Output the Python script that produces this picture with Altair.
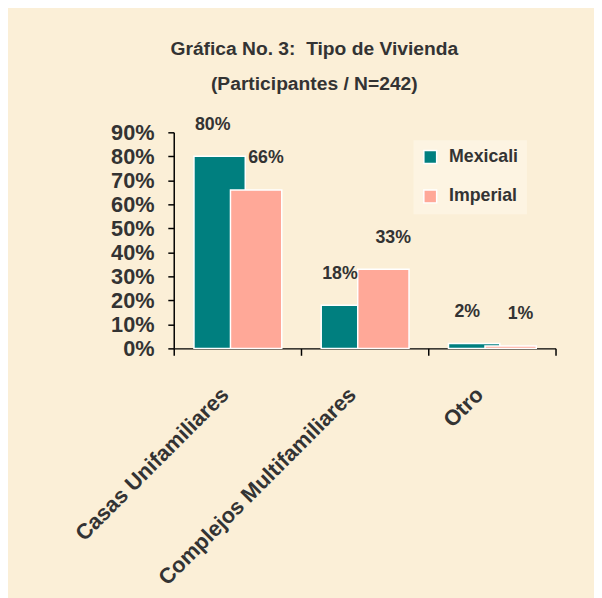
import altair as alt
import pandas as pd

categories = ["Casas Unifamiliares", "Complejos Multifamiliares", "Otro"]
series = ["Mexicali", "Imperial"]
mexicali = [0.80, 0.18, 0.02]
imperial = [0.66, 0.33, 0.01]
y_ticks = [0, 0.1, 0.2, 0.3, 0.4, 0.5, 0.6, 0.7, 0.8, 0.9]

rows = []
for c, m, i in zip(categories, mexicali, imperial):
    rows.append({"Category": c, "Series": "Mexicali", "Value": m})
    rows.append({"Category": c, "Series": "Imperial", "Value": i})
df = pd.DataFrame(rows)

TEAL = "#007F7F"
PINK = "#FFA898"
TXT = "#333333"
FONT = "Liberation Sans"
BG = "#FBEFD7"

base = alt.Chart(df).encode(
    x=alt.X(
        "Category:N",
        sort=categories,
        scale=alt.Scale(paddingInner=0, paddingOuter=0),
        axis=alt.Axis(
            title=None,
            labelAngle=-45,
            labelFont=FONT,
            labelFontWeight="bold",
            labelFontSize=22,
            labelColor=TXT,
            labelPadding=29,
            labelOffset=-20,
            labelLimit=0,
            tickBand="extent",
            tickSize=7,
            tickColor="black",
            domainColor="black",
            domainWidth=1.5,
            tickWidth=1.5,
            grid=False,
        ),
    ),
    y=alt.Y(
        "Value:Q",
        scale=alt.Scale(domain=[0, 0.9], nice=False),
        axis=alt.Axis(
            title=None,
            values=y_ticks,
            format=".0%",
            labelFont=FONT,
            labelFontWeight="bold",
            labelFontSize=22,
            labelColor=TXT,
            labelPadding=14,
            tickSize=6,
            tickColor="black",
            domainColor="black",
            domainWidth=1.5,
            tickWidth=1.5,
            grid=False,
        ),
    ),
)

color = alt.Color(
    "Series:N",
    scale=alt.Scale(domain=series, range=[TEAL, PINK]),
    sort=series,
    legend=alt.Legend(
        title=None,
        orient="none",
        legendX=243,
        legendY=8,
        symbolType="square",
        symbolSize=169,
        symbolStrokeColor="white",
        symbolStrokeWidth=1.5,
        symbolOpacity=1,
        labelFont=FONT,
        labelFontWeight="bold",
        labelFontSize=18,
        labelColor=TXT,
        rowPadding=20,
        labelOffset=10,
        padding=8,
        fillColor="#FDF4E2",
    ),
)

bars_m = base.transform_filter(alt.datum.Series == "Mexicali").mark_bar(
    width=52, xOffset=-18, stroke="white", strokeWidth=1.5
).encode(color=color)
bars_i = base.transform_filter(alt.datum.Series == "Imperial").mark_bar(
    width=52, xOffset=19, stroke="white", strokeWidth=1.5
).encode(color=color)

lab_kw = dict(font=FONT, fontWeight="bold", fontSize=18, color=TXT, baseline="middle", dy=-32)
text_m = base.transform_filter(alt.datum.Series == "Mexicali").mark_text(dx=-25, **lab_kw).encode(
    text=alt.Text("Value:Q", format=".0%")
)
text_i = base.transform_filter(alt.datum.Series == "Imperial").mark_text(dx=29, **lab_kw).encode(
    text=alt.Text("Value:Q", format=".0%")
)

chart = (
    alt.layer(bars_m, bars_i, text_m, text_i)
    .properties(
        width=387,
        height=219,
        padding={"left": 168, "top": 122, "right": 39, "bottom": 249},
        autosize=alt.AutoSizeParams(type="none"),
        background=BG,
        title=alt.TitleParams(
            text=["Gráfica No. 3:\u00a0 Tipo de Vivienda", "(Participantes / N=242)"],
            font=FONT,
            fontWeight="bold",
            fontSize=19.5,
            color=TXT,
            lineHeight=35,
            anchor="middle",
            dx=-51,
            offset=22,
        ),
    )
    .configure_view(stroke=None)
)

chart.save("out.html", embed_options={"renderer": "svg", "actions": False})
